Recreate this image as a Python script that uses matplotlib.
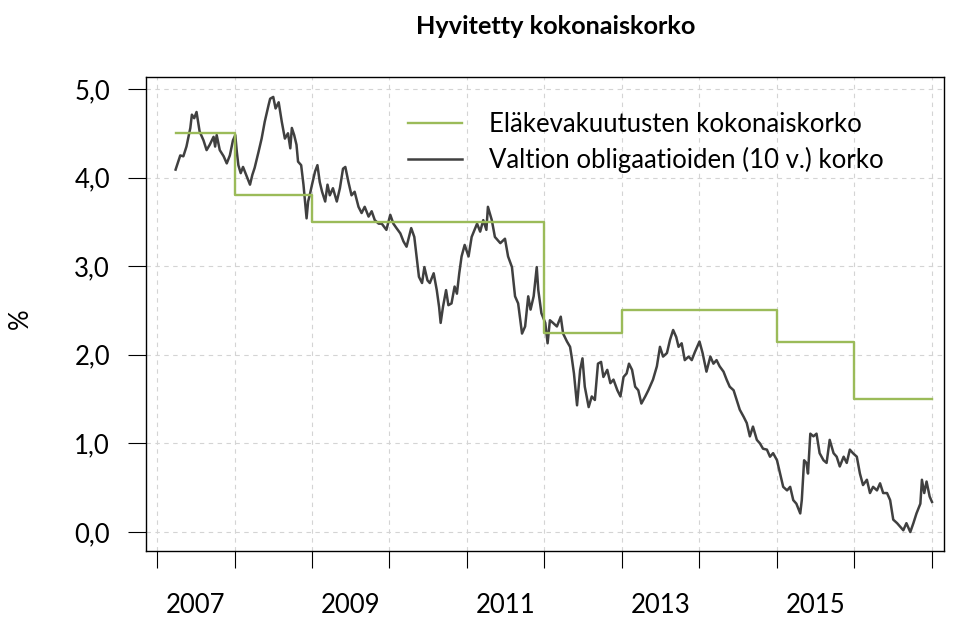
import matplotlib
matplotlib.use("Agg")
import matplotlib.pyplot as plt
import numpy as np

# Eläkevakuutusten kokonaiskorko (step changes at the start of each year)
step_years = [2007.24, 2008.0, 2009.0, 2012.0, 2013.0, 2015.0, 2016.0, 2017.0]
step_rate = [4.5, 3.8, 3.5, 2.25, 2.5, 2.15, 1.5, 1.5]

# Valtion obligaatioiden (10 v.) korko
bond_years = [
    2007.24, 2007.30, 2007.34, 2007.38, 2007.43, 2007.45, 2007.48, 2007.51, 2007.53, 2007.55,
    2007.60, 2007.64, 2007.68, 2007.73, 2007.75, 2007.77, 2007.81, 2007.86, 2007.90, 2007.94,
    2007.98, 2008.01, 2008.03, 2008.05, 2008.08, 2008.11, 2008.16, 2008.20, 2008.23, 2008.26,
    2008.31, 2008.35, 2008.39, 2008.44, 2008.46, 2008.50, 2008.53, 2008.57, 2008.61, 2008.65,
    2008.69, 2008.72, 2008.74, 2008.77, 2008.80, 2008.82, 2008.86, 2008.89, 2008.91, 2008.93,
    2008.95, 2008.97, 2009.00, 2009.04, 2009.07, 2009.10, 2009.13, 2009.17, 2009.20, 2009.23,
    2009.27, 2009.32, 2009.36, 2009.40, 2009.43, 2009.47, 2009.51, 2009.55, 2009.60, 2009.64,
    2009.68, 2009.73, 2009.77, 2009.81, 2009.86, 2009.90, 2009.96, 2010.01, 2010.05, 2010.09,
    2010.14, 2010.18, 2010.22, 2010.28, 2010.32, 2010.35, 2010.38, 2010.42, 2010.45, 2010.49,
    2010.52, 2010.57, 2010.61, 2010.64, 2010.66, 2010.69, 2010.73, 2010.76, 2010.80, 2010.84,
    2010.87, 2010.90, 2010.93, 2010.97, 2011.02, 2011.06, 2011.13, 2011.17, 2011.21, 2011.25,
    2011.27, 2011.32, 2011.36, 2011.43, 2011.49, 2011.53, 2011.58, 2011.62, 2011.66, 2011.71,
    2011.75, 2011.79, 2011.82, 2011.86, 2011.90, 2011.92, 2011.96, 2012.01, 2012.04, 2012.07,
    2012.11, 2012.16, 2012.21, 2012.24, 2012.29, 2012.33, 2012.35, 2012.38, 2012.42, 2012.46,
    2012.49, 2012.52, 2012.57, 2012.61, 2012.65, 2012.69, 2012.73, 2012.76, 2012.81, 2012.85,
    2012.89, 2012.94, 2012.98, 2013.02, 2013.06, 2013.09, 2013.13, 2013.17, 2013.21, 2013.25,
    2013.30, 2013.34, 2013.40, 2013.45, 2013.49, 2013.53, 2013.58, 2013.62, 2013.66, 2013.70,
    2013.73, 2013.77, 2013.81, 2013.86, 2013.90, 2013.94, 2014.00, 2014.04, 2014.09, 2014.14,
    2014.18, 2014.22, 2014.26, 2014.31, 2014.35, 2014.39, 2014.44, 2014.48, 2014.52, 2014.57,
    2014.61, 2014.65, 2014.69, 2014.74, 2014.78, 2014.82, 2014.87, 2014.91, 2014.95, 2015.00,
    2015.04, 2015.08, 2015.13, 2015.17, 2015.21, 2015.25, 2015.30, 2015.32, 2015.35, 2015.38,
    2015.40, 2015.43, 2015.47, 2015.51, 2015.55, 2015.60, 2015.64, 2015.68, 2015.73, 2015.77,
    2015.81, 2015.86, 2015.90, 2015.94, 2015.98, 2016.03, 2016.07, 2016.11, 2016.16, 2016.20,
    2016.24, 2016.29, 2016.33, 2016.37, 2016.42, 2016.46, 2016.50, 2016.55, 2016.59, 2016.63,
    2016.67, 2016.72, 2016.76, 2016.80, 2016.85, 2016.87, 2016.90, 2016.93, 2016.97, 2017.00,
]
bond_rate = [
    4.09, 4.25, 4.24, 4.35, 4.56, 4.71, 4.67, 4.74, 4.63, 4.52,
    4.42, 4.31, 4.37, 4.46, 4.35, 4.48, 4.31, 4.24, 4.16, 4.25,
    4.42, 4.48, 4.29, 4.14, 4.05, 4.12, 4.01, 3.92, 4.03, 4.11,
    4.29, 4.44, 4.63, 4.82, 4.89, 4.91, 4.78, 4.85, 4.63, 4.44,
    4.50, 4.33, 4.56, 4.48, 4.37, 4.18, 4.14, 3.92, 3.73, 3.54,
    3.73, 3.80, 3.92, 4.07, 4.14, 3.95, 3.84, 3.73, 3.92, 3.80,
    3.88, 3.73, 3.88, 4.10, 4.12, 3.95, 3.80, 3.84, 3.67, 3.60,
    3.67, 3.56, 3.62, 3.52, 3.48, 3.48, 3.41, 3.58, 3.48, 3.43,
    3.37, 3.28, 3.22, 3.43, 3.33, 3.11, 2.88, 2.81, 2.99, 2.84,
    2.81, 2.92, 2.73, 2.54, 2.36, 2.54, 2.73, 2.56, 2.58, 2.77,
    2.69, 2.92, 3.11, 3.24, 3.11, 3.33, 3.48, 3.39, 3.52, 3.41,
    3.67, 3.52, 3.33, 3.26, 3.31, 3.11, 2.99, 2.66, 2.58, 2.24,
    2.32, 2.66, 2.51, 2.66, 2.99, 2.73, 2.47, 2.36, 2.13, 2.39,
    2.36, 2.32, 2.43, 2.24, 2.15, 2.09, 1.98, 1.79, 1.43, 1.83,
    1.96, 1.64, 1.41, 1.53, 1.49, 1.90, 1.92, 1.75, 1.83, 1.68,
    1.72, 1.60, 1.53, 1.75, 1.79, 1.90, 1.83, 1.64, 1.60, 1.45,
    1.53, 1.60, 1.72, 1.87, 2.09, 1.98, 2.02, 2.17, 2.28, 2.20,
    2.09, 2.13, 1.94, 1.98, 1.94, 2.03, 2.15, 2.02, 1.81, 1.98,
    1.90, 1.94, 1.87, 1.81, 1.72, 1.64, 1.60, 1.49, 1.38, 1.30,
    1.23, 1.08, 1.19, 1.04, 1.00, 0.94, 0.93, 0.85, 0.89, 0.81,
    0.66, 0.51, 0.47, 0.51, 0.36, 0.32, 0.21, 0.36, 0.81, 0.78,
    0.66, 1.11, 1.08, 1.11, 0.89, 0.81, 0.78, 1.04, 0.89, 0.85,
    0.74, 0.85, 0.78, 0.93, 0.89, 0.85, 0.66, 0.53, 0.59, 0.44,
    0.51, 0.47, 0.55, 0.44, 0.44, 0.36, 0.14, 0.10, 0.06, 0.02,
    0.10, 0.00, 0.10, 0.21, 0.32, 0.59, 0.44, 0.57, 0.40, 0.34,
]

year_ticks = list(range(2007, 2018))
year_labels = ["2007", "2009", "2011", "2013", "2015"]
y_ticks = [0, 1, 2, 3, 4, 5]

plt.rcParams["font.family"] = ["Lato", "DejaVu Sans"]
fs = 18.5

fig = plt.figure(figsize=(9.55, 6.17), dpi=100)
ax = fig.add_axes([146 / 955, 1 - 551 / 617, (944 - 146) / 955, (551 - 77) / 617])

green = "#9bbb59"
dark = "#404040"

ax.step(step_years, step_rate, where="post", color=green, lw=1.7,
        label="Eläkevakuutusten kokonaiskorko", zorder=3)
ax.plot(bond_years, bond_rate, color=dark, lw=1.8,
        label="Valtion obligaatioiden (10 v.) korko", zorder=2)

ax.set_xlim(2006.858, 2017.155)
ax.set_ylim(-0.214, 5.135)

# year boundary ticks, labels in the middle of every other year
ax.set_xticks(year_ticks, labels=[""] * len(year_ticks))
ax.set_xticks([int(s) + 0.5 for s in year_labels], labels=year_labels, minor=True)
ax.tick_params(axis="x", which="major", length=12.5, width=0.8, direction="out")
ax.tick_params(axis="x", which="minor", length=0, pad=30, labelsize=fs)

ax.set_yticks(y_ticks, labels=[f"{v:.1f}".replace(".", ",") for v in y_ticks])
ax.tick_params(axis="y", length=13, width=0.8, pad=13, labelsize=fs)

for v in year_ticks:
    ax.axvline(v, color="#d4d4d4", lw=0.8, ls=(0, (4, 4)), zorder=0)
for v in y_ticks:
    ax.axhline(v, color="#d4d4d4", lw=0.8, ls=(0, (4, 4)), zorder=0)

for s in ax.spines.values():
    s.set_linewidth(1.0)
    s.set_color("black")

ax.set_ylabel("%", fontsize=fs)
ax.yaxis.set_label_coords(-0.1416, 0.49)

fig.text(556 / 955, 1 - 27 / 617, "Hyvitetty kokonaiskorko", ha="center", va="center",
         fontsize=18.2, fontweight="bold")

ax.legend(loc="upper left", bbox_to_anchor=((398 - 146) / 798, (551 - 102) / 474),
          frameon=False, fontsize=fs, handlelength=2.1, handletextpad=1.05,
          labelspacing=0.36, borderaxespad=0)

fig.savefig("out.png", dpi=100)
